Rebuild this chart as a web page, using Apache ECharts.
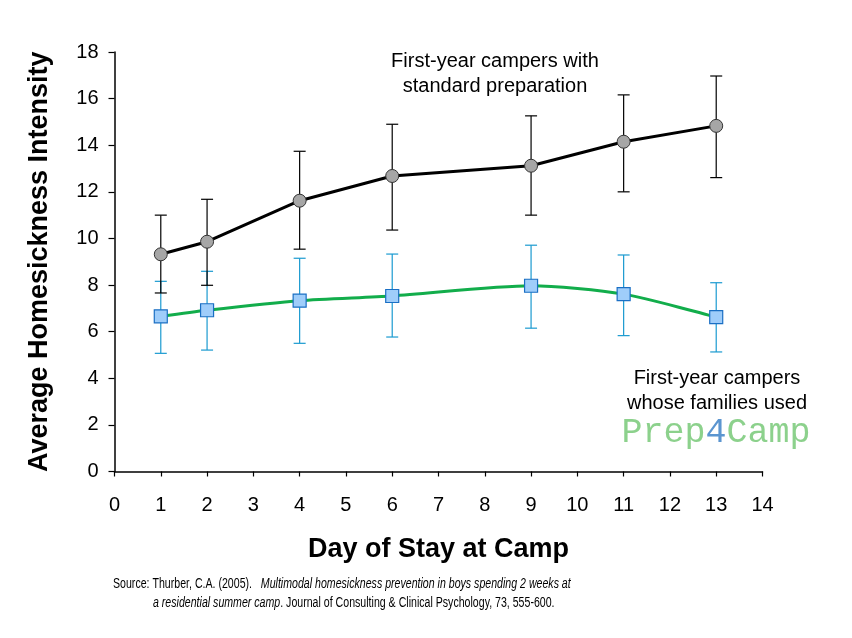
<!DOCTYPE html>
<html>
<head>
<meta charset="utf-8">
<script src="https://cdn.jsdelivr.net/npm/echarts@6/dist/echarts.min.js"></script>
<style>
html,body{margin:0;padding:0;background:#fff;}
#chart{width:852px;height:638px;}
</style>
</head>
<body>
<div id="chart"></div>
<script>
var days = [1, 2, 4, 6, 9, 11, 13];
var standardMean = [9.32, 9.86, 11.62, 12.68, 13.12, 14.15, 14.83];
var standardHigh = [11.0, 11.68, 13.74, 14.9, 15.26, 16.16, 16.97];
var standardLow  = [7.66, 7.99, 9.54, 10.36, 11.0, 12.0, 12.61];
var prepMean = [6.66, 6.92, 7.33, 7.53, 7.97, 7.61, 6.62];
var prepHigh = [8.16, 8.59, 9.15, 9.33, 9.71, 9.29, 8.10];
var prepLow  = [5.07, 5.21, 5.50, 5.77, 6.15, 5.83, 5.13];
var xTicks = [0,1,2,3,4,5,6,7,8,9,10,11,12,13,14];
var yTicks = [0,2,4,6,8,10,12,14,16,18];

function pairs(xs, ys){ return xs.map(function(x,i){ return [x, ys[i]]; }); }
function errData(xs, lo, hi){ return xs.map(function(x,i){ return [x, lo[i], hi[i]]; }); }

function errRender(color){
  return function(params, api){
    var x = api.value(0);
    var lo = api.coord([x, api.value(1)]);
    var hi = api.coord([x, api.value(2)]);
    var hw = 6;
    var st = {stroke: color, lineWidth: 1.2};
    return {type:'group', children:[
      {type:'line', shape:{x1:lo[0], y1:lo[1], x2:hi[0], y2:hi[1]}, style:st},
      {type:'line', shape:{x1:hi[0]-hw, y1:hi[1], x2:hi[0]+hw, y2:hi[1]}, style:st},
      {type:'line', shape:{x1:lo[0]-hw, y1:lo[1], x2:lo[0]+hw, y2:lo[1]}, style:st}
    ]};
  };
}

var chart = echarts.init(document.getElementById('chart'), null, {renderer:'canvas'});
var baseFont = 'Liberation Sans, Arial, sans-serif';
var srcFont = 'Liberation Sans, Arial, sans-serif';
var option = {
  backgroundColor:'#ffffff',
  animation:false,
  grid:{left:114.5, right:89.5, top:52, bottom:166.5},
  xAxis:{
    type:'value', min:0, max:14, interval:1,
    axisLine:{show:true, onZero:false, lineStyle:{color:'#000', width:1.5}},
    axisTick:{show:true, length:5, lineStyle:{color:'#000', width:1.2}},
    axisLabel:{color:'#000', fontSize:20, fontFamily:baseFont, margin:24,
      formatter:function(v){ return xTicks.indexOf(v)>=0 ? String(v) : ''; }},
    splitLine:{show:false},
    name:'Day of Stay at Camp', nameLocation:'middle', nameGap:65,
    nameTextStyle:{color:'#000', fontSize:27, fontWeight:'bold', fontFamily:baseFont}
  },
  yAxis:{
    type:'value', min:0, max:18, interval:2,
    axisLine:{show:true, lineStyle:{color:'#000', width:1.5}},
    axisTick:{show:true, length:6, lineStyle:{color:'#000', width:1.2}},
    axisLabel:{color:'#000', fontSize:20, fontFamily:baseFont, margin:16,
      formatter:function(v){ return yTicks.indexOf(v)>=0 ? String(v) : ''; }},
    splitLine:{show:false},
    name:'Average Homesickness Intensity', nameLocation:'middle', nameGap:61,
    nameTextStyle:{color:'#000', fontSize:27, fontWeight:'bold', fontFamily:baseFont}
  },
  series:[
    {type:'custom', name:'prepErr', data:errData(days, prepLow, prepHigh),
      renderItem:errRender('#1a9ad0'), z:2, encode:{x:0, y:[1,2]}},
    {type:'custom', name:'stdErr', data:errData(days, standardLow, standardHigh),
      renderItem:errRender('#000000'), z:3, encode:{x:0, y:[1,2]}},
    {type:'line', name:'prep', data:pairs(days, prepMean), smooth:0.25,
      lineStyle:{color:'#12ad4b', width:3},
      symbol:'rect', symbolSize:13,
      itemStyle:{color:'#9fcdfa', borderColor:'#1a6fc4', borderWidth:1.2}, z:4},
    {type:'line', name:'std', data:pairs(days, standardMean),
      lineStyle:{color:'#000', width:3},
      symbol:'circle', symbolSize:13,
      itemStyle:{color:'#a6a6a6', borderColor:'#333', borderWidth:1}, z:5}
  ],
  graphic:[
    {type:'text', x:495, y:49, style:{text:'First-year campers with\nstandard preparation', fill:'#000', font:'20px Liberation Sans, Arial, sans-serif', textAlign:'center', lineHeight:25}},
    {type:'text', x:717, y:366, style:{text:'First-year campers\nwhose families used', fill:'#000', font:'20px Liberation Sans, Arial, sans-serif', textAlign:'center', lineHeight:25}},
    {type:'text', x:716, y:415, style:{
      text:'{a|Prep}{b|4}{a|Camp}', textAlign:'center',
      rich:{
        a:{fill:'#8cd18c', fontSize:35, fontFamily:'Liberation Mono, DejaVu Sans Mono, monospace'},
        b:{fill:'#5b95d0', fontSize:35, fontFamily:'Liberation Mono, DejaVu Sans Mono, monospace'}
      }}},
    {type:'text', x:113, y:577, scaleX:0.757, style:{
      text:'{n|Source: Thurber, C.A. (2005).   }{i|Multimodal homesickness prevention in boys spending 2 weeks at}',
      rich:{
        n:{fill:'#000', fontSize:14, fontFamily:srcFont},
        i:{fill:'#000', fontSize:14, fontStyle:'italic', fontFamily:srcFont}
      }}},
    {type:'text', x:153, y:596, scaleX:0.757, style:{
      text:'{i|a residential summer camp}{n|. Journal of Consulting & Clinical Psychology, 73, 555-600.}',
      rich:{
        n:{fill:'#000', fontSize:14, fontFamily:srcFont},
        i:{fill:'#000', fontSize:14, fontStyle:'italic', fontFamily:srcFont}
      }}}
  ]
};
chart.setOption(option);
</script>
</body>
</html>
